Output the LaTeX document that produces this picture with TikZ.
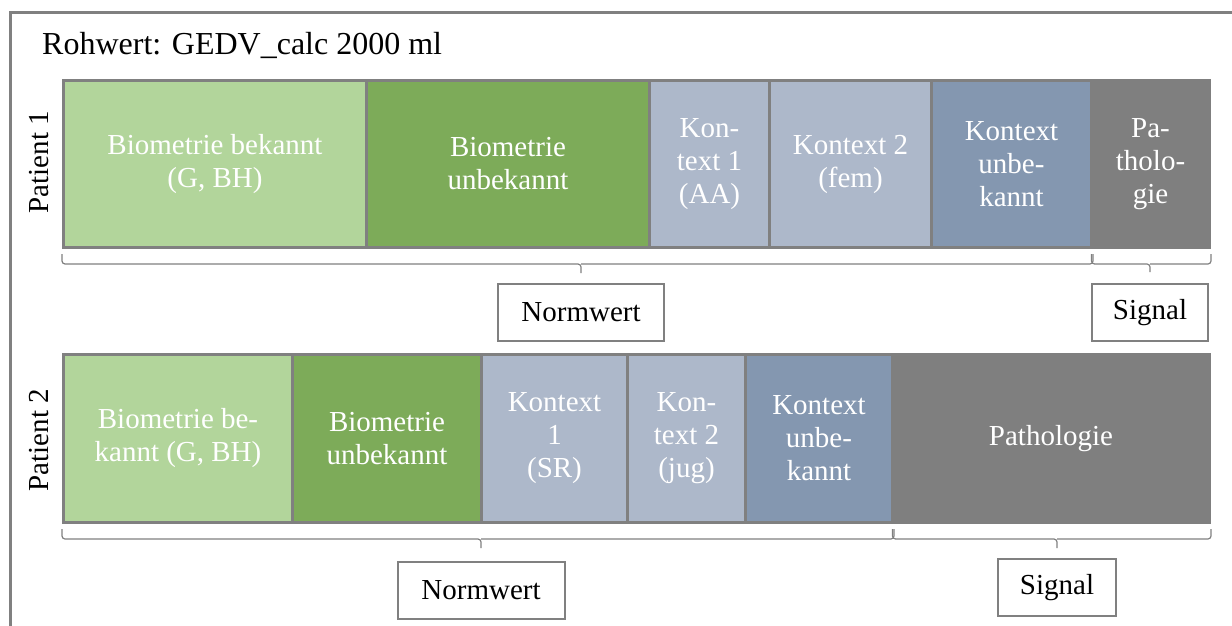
\documentclass[tikz,border=0pt]{standalone}
\usepackage{fontspec}
\setmainfont{LiberationSerif}[Extension=.ttf, UprightFont=*-Regular, BoldFont=*-Bold, ItalicFont=*-Italic, BoldItalicFont=*-BoldItalic]
\definecolor{lgreen}{HTML}{B2D59B}
\definecolor{dgreen}{HTML}{7DAB59}
\definecolor{lblue}{HTML}{ADB8CA}
\definecolor{dblue}{HTML}{8497B0}
\definecolor{pgray}{HTML}{7F7F7F}
\definecolor{bgray}{HTML}{808080}
\begin{document}
\begin{tikzpicture}[x=1pt,y=-1pt,
  cell/.style={draw=bgray, line width=3pt, anchor=north west, inner sep=0pt,
    text=white, align=center, font=\fontsize{29}{33}\selectfont},
  lab/.style={draw=bgray, line width=2pt, fill=white, anchor=north, inner sep=0pt,
    align=center, font=\fontsize{29}{33}\selectfont},
  brc/.style={draw=bgray, line width=1.2pt, rounded corners=3pt},
  pat/.style={rotate=90, font=\fontsize{29}{33}\selectfont}]
\useasboundingbox (0,0) rectangle (1232,626);
\fill[white] (0,0) rectangle (1232,626);
% frame
\draw[bgray, line width=3pt] (10.5,640) -- (10.5,12.5) -- (1240,12.5);
% title
\node[anchor=base west, inner sep=0pt, font=\fontsize{32}{36}\selectfont] (title) at (42,55) {Rohwert: GEDV\_calc 2000 ml};
% patient labels
\node[pat] (p1) at (39,162) {Patient 1};
\node[pat] (p2) at (39,440) {Patient 2};
% row 1
\node[cell, fill=lgreen, minimum width=303, minimum height=167] (a1) at (62,79) {Biometrie bekannt\\(G, BH)};
\node[cell, fill=dgreen, minimum width=283, minimum height=167] (a2) at (365,79) {Biometrie\\unbekannt};
\node[cell, fill=lblue, minimum width=120, minimum height=167] (a3) at (648,79) {Kon-\\text 1\\(AA)};
\node[cell, fill=lblue, minimum width=162, minimum height=167] (a4) at (768,79) {Kontext 2\\(fem)};
\node[cell, fill=dblue, minimum width=160, minimum height=167] (a5) at (930,79) {Kontext\\unbe-\\kannt};
\node[cell, fill=pgray, draw=pgray, minimum width=118, minimum height=167] (a6) at (1090,79) {Pa-\\tholo-\\gie};
% row 2
\node[cell, fill=lgreen, minimum width=229, minimum height=168] (b1) at (62,353) {Biometrie be-\\kannt (G, BH)};
\node[cell, fill=dgreen, minimum width=189, minimum height=168] (b2) at (291,353) {Biometrie\\unbekannt};
\node[cell, fill=lblue, minimum width=146, minimum height=168] (b3) at (480,353) {Kontext\\1\\(SR)};
\node[cell, fill=lblue, minimum width=118, minimum height=168] (b4) at (626,353) {Kon-\\text 2\\(jug)};
\node[cell, fill=dblue, minimum width=147, minimum height=168] (b5) at (744,353) {Kontext\\unbe-\\kannt};
\node[cell, fill=pgray, draw=pgray, minimum width=317, minimum height=168] (b6) at (891,353) {Pathologie};
% labels
\node[lab, minimum width=166, minimum height=57] (n1) at (581,283) {Normwert};
\node[lab, minimum width=116, minimum height=57] (s1) at (1150,283) {Signal};
\node[lab, minimum width=167, minimum height=57] (n2) at (481,561) {Normwert};
\node[lab, minimum width=118, minimum height=57] (s2) at (1057,558) {Signal};
% braces row 1 (bracket from cells to label)
\draw[brc] ([yshift=-5pt]a1.south west) |- ([yshift=-15pt]a1.south west -| n1.north)
  -- ([yshift=10pt]n1.north);
\draw[brc] ([yshift=-5pt]a5.south east) |- ([yshift=-15pt]a5.south east -| n1.north);
\draw[brc] ([xshift=1.5pt,yshift=-5pt]a6.south west) |- ([yshift=-15pt]a6.south west -| s1.north)
  -- ([yshift=11pt]s1.north);
\draw[brc] ([yshift=-5pt]a6.south east) |- ([yshift=-15pt]a6.south east -| s1.north);
% braces row 2
\draw[brc] ([yshift=-5pt]b1.south west) |- ([yshift=-15pt]b1.south west -| n2.north)
  -- ([yshift=13pt]n2.north);
\draw[brc] ([yshift=-5pt]b5.south east) |- ([yshift=-15pt]b5.south east -| n2.north);
\draw[brc] ([xshift=1.5pt,yshift=-5pt]b6.south west) |- ([yshift=-15pt]b6.south west -| s2.north)
  -- ([yshift=10pt]s2.north);
\draw[brc] ([yshift=-5pt]b6.south east) |- ([yshift=-15pt]b6.south east -| s2.north);
\end{tikzpicture}
\end{document}
